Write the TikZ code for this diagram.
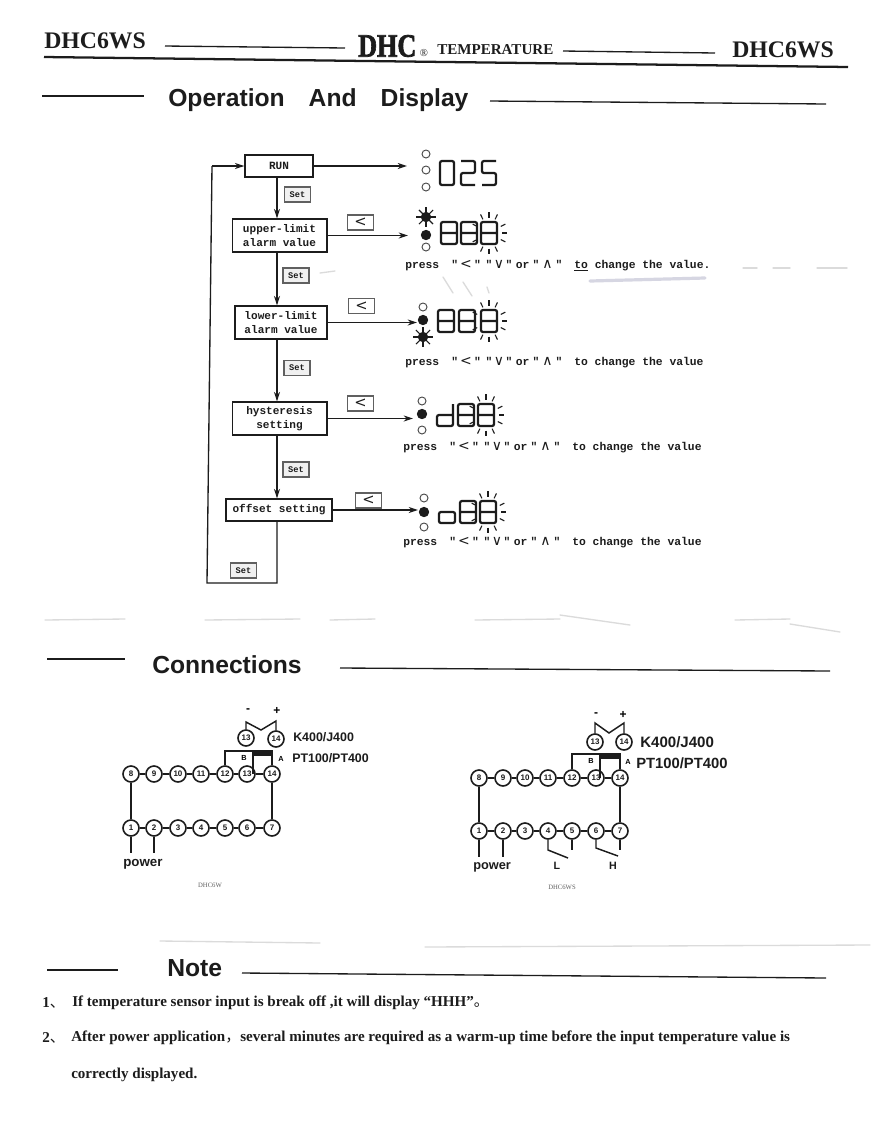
\documentclass[tikz,border=0pt]{standalone}
\usepackage{fontspec}
\setmainfont{Liberation Serif}
\setsansfont{Liberation Sans}
\setmonofont{Liberation Mono}
\newfontfamily\pressfam{Liberation Mono}
\newfontfamily\boxfam{Liberation Mono}
\newfontfamily\chevfam{DejaVu Sans}
\newfontfamily\cjkfam{Noto Sans CJK SC}
\newfontfamily\heavyfam[BoldFeatures={FakeBold=2.2}]{Liberation Serif}
\usetikzlibrary{arrows.meta}
\definecolor{ink}{HTML}{1C1C1C}
\tikzset{
  x=.75pt,y=-.75pt,
  rule/.style={draw=ink,line width=1pt},
  flowline/.style={draw=ink,line width=1pt},
  flowarrow/.style={flowline,-{Stealth[length=7pt,width=4.5pt]}},
  flowbox/.style={draw=ink,line width=1pt,inner sep=0pt,fill=white,font=\boxfam\bfseries\fontsize{8.3}{11}\selectfont,align=center,text=ink},
  keybox/.style={draw=ink!70,line width=.8pt,inner sep=0pt,minimum width=19.5pt,minimum height=11.25pt,fill=black!6,font=\boxfam\bfseries\fontsize{6.5}{8}\selectfont,text=ink},
  lessbox/.style={keybox,fill=white,font=\chevfam\fontsize{11}{11}\selectfont},
  presstext/.style={anchor=west,inner sep=0pt,text=ink,font=\pressfam\bfseries\fontsize{8.5}{10}\selectfont},
  ledoff/.style={circle,draw=ink!80,line width=.7pt,minimum size=6pt,inner sep=0pt},
  ledon/.style={circle,draw=ink,fill=ink,line width=.7pt,minimum size=7pt,inner sep=0pt},
  seg/.style={draw=ink,line width=1.7pt,rounded corners=1.5pt},
  ray/.style={draw=ink,line width=.8pt},
  terminal/.style={circle,draw=ink,line width=1.2pt,fill=white,minimum size=12pt,inner sep=0pt,font=\sffamily\bfseries\fontsize{6}{6}\selectfont,text=ink},
  wire/.style={draw=ink,line width=1.1pt},
  head/.style={inner sep=0pt,anchor=west,text=ink,font=\sffamily\bfseries\fontsize{18.5}{20}\selectfont},
  label/.style={inner sep=0pt,anchor=west,text=ink,font=\sffamily\bfseries\fontsize{9}{10}\selectfont},
  note/.style={inner sep=0pt,anchor=west,text=ink,font=\rmfamily\bfseries\fontsize{11.3}{13}\selectfont},
  hdtext/.style={inner sep=0pt,anchor=west,text=ink,font=\rmfamily\bfseries\fontsize{17.8}{18}\selectfont},
  smudge/.style={draw=black!14,line width=1pt,line cap=round},
  pics/dzero/.style={code={\draw[seg] (0,0)--(14,0)--(14,24)--(0,24)--cycle;}},
  pics/dtwo/.style={code={\draw[seg] (0,0)--(14,0)--(14,12)--(0,12)--(0,24)--(14,24);}},
  pics/dfive/.style={code={\draw[seg] (14,0)--(0,0)--(0,12)--(14,12)--(14,24)--(0,24);}},
  pics/deight/.style={code={\draw[seg] (0,0)--(16,0)--(16,22)--(0,22)--cycle (0,11)--(16,11);}},
  pics/dd/.style={code={\draw[seg] (16,0)--(16,22)--(0,22)--(0,11)--(16,11);}},
  pics/do/.style={code={\draw[seg] (0,11)--(16,11)--(16,22)--(0,22)--cycle;}},
  pics/blink/.style={code={\foreach \a in {90,62,118,25,0,-25,-62,-90,-118,155,205}{\draw[ray] (\a:13 and 15.5)--(\a:18 and 21);}}},
  pics/starled/.style={code={\foreach \a in {0,45,...,315}{\draw[ray] (\a:4)--(\a:10);}}},
}
\newcommand{\chv}[2]{\makebox[#1][c]{\chevfam\mdseries\fontsize{10.5}{10}\selectfont #2}}
\newcommand{\presstxt}{press\hspace{9pt}"\chv{12pt}{<}"\hspace{3.5pt}"\chv{10pt}{∨}"\hspace{2.5pt}or\hspace{2.5pt}"\chv{12pt}{∧}"\hspace{9pt}}
\newcommand{\cjkp}[1]{{\cjkfam\mdseries #1}}
\begin{document}
\begin{tikzpicture}
\useasboundingbox (0,0) rectangle (871,1122);
\fill[white] (0,0) rectangle (871,1122);
% scan marks
\foreach \p/\q in {45/125,205/300,330/375,475/560,735/790}{\draw[smudge] (\p,620)--(\q,619);}
\draw[smudge] (560,615)--(630,625);
\draw[smudge] (790,624)--(840,632);
\draw[smudge] (160,941)--(320,943);
\draw[smudge] (425,947)--(870,945);
\draw[smudge,draw=blue!30!black!16,line width=2.4pt] (590,281)--(705,278);
\foreach \p/\q in {743/757,773/790,817/847}{\draw[smudge] (\p,268)--(\q,268);}
\draw[smudge] (320,273)--(335,271);
\draw[smudge] (443,277)--(453,293);
\draw[smudge] (463,282)--(472,296);
\draw[smudge] (487,287)--(489,293);
% header
\node[hdtext] (hl) at (44,41) {DHC6WS};
\node[hdtext] (hr) at (732,50) {DHC6WS};
\node[inner sep=0pt,anchor=west,text=ink,xscale=.8,font=\heavyfam\bfseries\fontsize{24.5}{25}\selectfont] (brand) at (358,46) {DHC};
\node[inner sep=0pt,anchor=center,text=ink,font=\rmfamily\fontsize{8}{8}\selectfont] (reg) at (424,53) {®};
\node[inner sep=0pt,anchor=west,text=ink,font=\rmfamily\bfseries\fontsize{11.3}{12}\selectfont] (temp) at (437,50) {TEMPERATURE};
\draw[rule] (165,46)--(345,48);
\draw[rule] (563,51)--(715,53);
\draw[rule,line width=1.7pt] (44,57)--(848,67);
% section headings
\node[head] (opA) at (168,100) {Operation\hspace{18pt}And\hspace{18pt}Display};
\draw[rule] (42,96)--(144,96);
\draw[rule] (490,101)--(826,104);
\node[head] (conn) at (152,665) {Connections};
\draw[rule] (47,659)--(125,659);
\draw[rule] (340,668)--(830,671);
\node[head] (notehd) at (167,968) {Note};
\draw[rule] (47,970)--(118,970);
\draw[rule] (242,973)--(826,978);
% flow chart
\coordinate (spine) at (277,0);
\node[flowbox,minimum width=51pt,minimum height=16.5pt] (run) at (279,166) {RUN};
\node[flowbox,minimum width=71pt,minimum height=24.75pt] (upper) at (279.5,235.5) {upper-limit\\alarm value};
\node[flowbox,minimum width=69pt,minimum height=24.75pt] (lower) at (281,322.5) {lower-limit\\alarm value};
\node[flowbox,minimum width=71pt,minimum height=24.75pt] (hyst) at (279.5,418.5) {hysteresis\\setting};
\node[flowbox,minimum width=79.5pt,minimum height=16.5pt] (offset) at (279,510) {offset setting};
\node[keybox] (s1) at (297.5,194.5) {Set};
\node[keybox] (s2) at (296,275.5) {Set};
\node[keybox] (s3) at (297,368) {Set};
\node[keybox] (s4) at (296,469.5) {Set};
\node[keybox] (s5) at (243.5,570.5) {Set};
\node[lessbox] (k1) at (360.5,222.5) {<};
\node[lessbox] (k2) at (361.5,306) {<};
\node[lessbox] (k3) at (360.5,403.5) {<};
\node[lessbox] (k4) at (368.5,500.5) {<};
\coordinate (c0) at (207,583);
\coordinate (c2) at (212,166);
\draw[flowline] (offset.south -| spine) |- (c0) -- (c2);
\draw[flowarrow] (c2) -- (run.west);
\draw[flowarrow] (run.south -| spine) -- (upper.north -| spine);
\draw[flowarrow] (upper.south -| spine) -- (lower.north -| spine);
\draw[flowarrow] (lower.south -| spine) -- (hyst.north -| spine);
\draw[flowarrow] (hyst.south -| spine) -- (offset.north -| spine);
% LEDs
\node[ledoff] (a1) at (426,154) {}; \node[ledoff] (a2) at (426,170) {}; \node[ledoff] (a3) at (426,187) {};
\pic at (426,217) {starled}; \node[ledon] (b1) at (426,217) {}; \node[ledon] (b2) at (426,235) {}; \node[ledoff] (b3) at (426,247) {};
\node[ledoff] (d1) at (423,307) {}; \node[ledon] (d2) at (423,320) {}; \pic at (423,337) {starled}; \node[ledon] (d3) at (423,337) {};
\node[ledoff] (e1) at (422,401) {}; \node[ledon] (e2) at (422,414) {}; \node[ledoff] (e3) at (422,430) {};
\node[ledoff] (f1) at (424,498) {}; \node[ledon] (f2) at (424,512) {}; \node[ledoff] (f3) at (424,527) {};
\coordinate (a0) at (407,166);
\coordinate (b0) at (408,235.5);
\coordinate (d0) at (417,322.5);
\coordinate (e0) at (413,418.5);
\coordinate (f0) at (418,510);
\draw[flowarrow] (run.east) -- (a0);
\draw[flowarrow] (upper.east) -- (b0);
\draw[flowarrow] (lower.east) -- (d0);
\draw[flowarrow] (hyst.east) -- (e0);
\draw[flowarrow] (offset.east) -- (f0);
% displays
\pic at (440,161) {dzero}; \pic at (461,161) {dtwo}; \pic at (482,161) {dfive};
\pic at (441,222) {deight}; \pic at (461,222) {deight}; \pic at (481,222) {deight}; \pic at (489,233) {blink};
\pic at (438,310) {deight}; \pic at (459,310) {deight}; \pic at (481,310) {deight}; \pic at (489,321) {blink};
\pic at (437,404) {dd}; \pic at (458,404) {deight}; \pic at (478,404) {deight}; \pic at (486,415) {blink};
\pic at (439,501) {do}; \pic at (460,501) {deight}; \pic at (480,501) {deight}; \pic at (488,512) {blink};
% press lines
\node[presstext] (p1) at (405,266) {\presstxt\underline{to} change the value.};
\node[presstext] (p2) at (405,363) {\presstxt to change the value};
\node[presstext] (p3) at (403,448) {\presstxt to change the value};
\node[presstext] (p4) at (403,543) {\presstxt to change the value};
% left wiring
\foreach \n/\x in {1/131,2/154,3/178,4/201,5/225,6/247,7/272}{\node[terminal] (l\n) at (\x,828) {\n};}
\foreach \n/\x in {8/131,9/154,10/178,11/201,12/225,13/247,14/272}{\node[terminal] (l\n) at (\x,774) {\n};}
\foreach \a/\b in {1/2,2/3,3/4,4/5,5/6,6/7,8/9,9/10,10/11,11/12,12/13,13/14}{\draw[wire] (l\a)--(l\b);}
\draw[wire] (l8)--(l1);
\draw[wire] (l14)--(l7);
\node[terminal] (ls13) at (246,738) {13};
\node[terminal] (ls14) at (276,739) {14};
\coordinate (lm1) at (246,722); \coordinate (lm2) at (261,730); \coordinate (lm3) at (276,721);
\draw[wire] (ls13)--(lm1)--(lm2)--(lm3)--(ls14);
\node[inner sep=0pt,font=\sffamily\bfseries\fontsize{9}{9}\selectfont] (lminus) at (248,711) {-};
\node[inner sep=0pt,font=\sffamily\bfseries\fontsize{9}{9}\selectfont] (lplus) at (277,711) {+};
\node[label,font=\sffamily\bfseries\fontsize{9.3}{10}\selectfont] (lk) at (293,737) {K400/J400};
\node[label,font=\sffamily\bfseries\fontsize{9.3}{10}\selectfont] (lpt) at (292,758) {PT100/PT400};
\node[inner sep=0pt,font=\sffamily\bfseries\fontsize{5.5}{6}\selectfont] (la) at (281,759) {A};
\node[inner sep=0pt,font=\sffamily\bfseries\fontsize{5.5}{6}\selectfont] (lb) at (244,758) {B};
\coordinate (lt) at (225,751);
\draw[wire] (l12) |- (l14 |- lt) -- (l14);
\fill[ink] (253,750) rectangle (272,756);
\coordinate (lj) at (253,752);
\draw[wire] (l13 -| lj) -- (lj);
\coordinate (lp1) at (131,853); \coordinate (lp2) at (154,853);
\draw[wire] (l1)--(lp1); \draw[wire] (l2)--(lp2);
\node[inner sep=0pt,anchor=west,text=ink,font=\sffamily\bfseries\fontsize{10}{11}\selectfont] (lpower) at (123,864) {power};
\node[inner sep=0pt,text=ink!70,font=\rmfamily\fontsize{5}{5}\selectfont] (lname) at (210,885) {DHC6W};
% right wiring
\foreach \n/\x in {1/479,2/503,3/525,4/548,5/572,6/596,7/620}{\node[terminal] (r\n) at (\x,831) {\n};}
\foreach \n/\x in {8/479,9/503,10/525,11/548,12/572,13/596,14/620}{\node[terminal] (r\n) at (\x,778) {\n};}
\foreach \a/\b in {1/2,2/3,3/4,4/5,5/6,6/7,8/9,9/10,10/11,11/12,12/13,13/14}{\draw[wire] (r\a)--(r\b);}
\draw[wire] (r8)--(r1);
\draw[wire] (r14)--(r7);
\node[terminal] (rs13) at (595,742) {13};
\node[terminal] (rs14) at (624,742) {14};
\coordinate (rm1) at (595,723); \coordinate (rm2) at (609,733); \coordinate (rm3) at (624,723);
\draw[wire] (rs13)--(rm1)--(rm2)--(rm3)--(rs14);
\node[inner sep=0pt,font=\sffamily\bfseries\fontsize{9}{9}\selectfont] (rminus) at (596,715) {-};
\node[inner sep=0pt,font=\sffamily\bfseries\fontsize{9}{9}\selectfont] (rplus) at (623,715) {+};
\node[label,font=\sffamily\bfseries\fontsize{11.3}{12}\selectfont] (rk) at (640,742) {K400/J400};
\node[label,font=\sffamily\bfseries\fontsize{11.1}{12}\selectfont] (rpt) at (636,763) {PT100/PT400};
\node[inner sep=0pt,font=\sffamily\bfseries\fontsize{5.5}{6}\selectfont] (ra) at (628,762) {A};
\node[inner sep=0pt,font=\sffamily\bfseries\fontsize{5.5}{6}\selectfont] (rb) at (591,761) {B};
\coordinate (rt) at (572,754);
\draw[wire] (r12) |- (r14 |- rt) -- (r14);
\fill[ink] (600,753) rectangle (620,759);
\coordinate (rj) at (600,755);
\draw[wire] (r13 -| rj) -- (rj);
\coordinate (rp1) at (479,857); \coordinate (rp2) at (503,857);
\draw[wire] (r1)--(rp1); \draw[wire] (r2)--(rp2);
\coordinate (rl1) at (548,850); \coordinate (rl2) at (568,858); \coordinate (rl3) at (572,850);
\draw[wire] (r4)--(rl1)--(rl2); \draw[wire] (r5)--(rl3);
\coordinate (rh1) at (596,848); \coordinate (rh2) at (618,856); \coordinate (rh3) at (620,850);
\draw[wire] (r6)--(rh1)--(rh2); \draw[wire] (r7)--(rh3);
\node[inner sep=0pt,anchor=west,text=ink,font=\sffamily\bfseries\fontsize{9.6}{11}\selectfont] (rpower) at (473,867) {power};
\node[inner sep=0pt,text=ink,font=\sffamily\bfseries\fontsize{8}{10}\selectfont] (rL) at (557,866) {L};
\node[inner sep=0pt,text=ink,font=\sffamily\bfseries\fontsize{8}{10}\selectfont] (rH) at (613,866) {H};
\node[inner sep=0pt,text=ink!70,font=\rmfamily\fontsize{5}{5}\selectfont] (rname) at (562,887) {DHC6WS};
% notes
\node[note] (n1a) at (42,1003) {1\cjkp{、}};
\node[note] (n1) at (72,1003) {If temperature sensor input is break off ,it will display “HHH”\cjkp{。}};
\node[note] (n2a) at (42,1038) {2\cjkp{、}};
\node[note] (n2) at (71,1038) {After power application\cjkp{，}several minutes are required as a warm-up time before the input temperature value is};
\node[note] (n3) at (71,1075) {correctly displayed.};
\end{tikzpicture}
\end{document}
